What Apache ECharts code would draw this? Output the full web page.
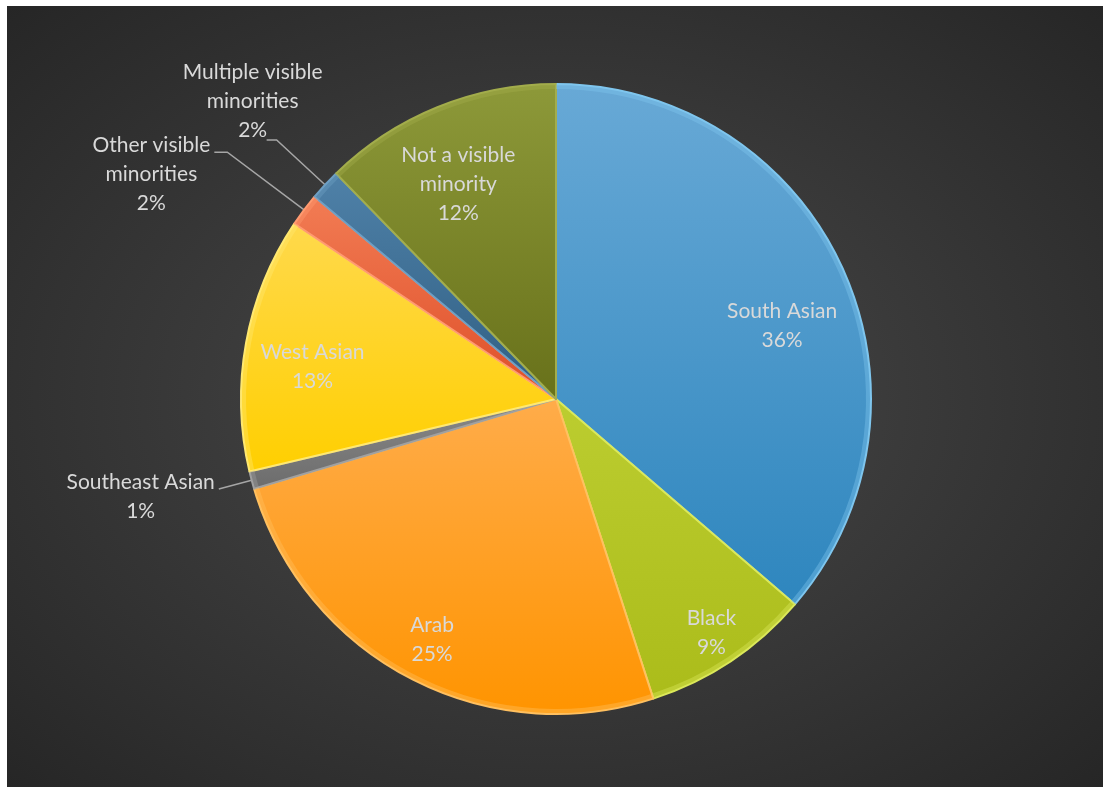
<!DOCTYPE html>
<html>
<head>
<meta charset="utf-8">
<title>Visible minority population</title>
<script src="https://cdn.jsdelivr.net/npm/echarts@6/dist/echarts.min.js"></script>
<style>
  html, body { margin: 0; padding: 0; background: #ffffff; }
  #chart {
    position: absolute; left: 7px; top: 6px; width: 1096px; height: 781px;
    background: radial-gradient(ellipse at 50% 50%, #4c4c4c 0%, #3a3a3a 45%, #262626 100%);
  }
</style>
</head>
<body>
<div id="chart"></div>
<script>
// Population shares (%) by group, clockwise from 12 o'clock
const categories = [
  'South Asian', 'Black', 'Arab', 'Southeast Asian', 'West Asian',
  'Other visible minorities', 'Multiple visible minorities', 'Not a visible minority'
];
const shares = [36.3, 8.7, 25.4, 0.9, 13.1, 1.7, 1.6, 12.3];
// Label wording with its line breaks
const labelText = [
  'South Asian', 'Black', 'Arab', 'Southeast Asian', 'West Asian',
  'Other visible\nminorities', 'Multiple visible\nminorities', 'Not a visible\nminority'
];

// Slice fills: [top tint, bottom tint, edge highlight]
const sliceColors = [
  ['#68a9d6', '#2e86be', '#7fc6ee'],
  ['#bccd30', '#abbc1a', '#dbe85a'],
  ['#ffac4a', '#ff9400', '#ffc060'],
  ['#8a8a8a', '#6c6c6c', '#a0a0a0'],
  ['#ffd94c', '#ffcf00', '#ffe870'],
  ['#f27c54', '#de4e28', '#ff9a70'],
  ['#4f81a8', '#2f5e82', '#6e9fc4'],
  ['#8d9939', '#68711a', '#a3ad4c']
];

// Geometry of the pie inside the chart box
const PIE_CENTER = [549, 393];
const PIE_RADIUS = 315;

// Inside labels: distance from centre (fraction of radius), angular shift (deg)
const insideLabelSpot = {
  'South Asian': { reach: 0.755, turn: 6.6 },
  'Black': { reach: 0.89, turn: 0 },
  'Arab': { reach: 0.86, turn: -0.5 },
  'West Asian': { reach: 0.78, turn: -2.6 },
  'Not a visible minority': { reach: 0.75, turn: -2.3 }
};
// Outside labels: leader lengths and where the leader meets the text block
const outsideLabelSpot = {
  'Southeast Asian': { len: 34, len2: 0, gap: 4, ax: 1, ay: 0.37 },
  'Other visible minorities': { len: 96, len2: 13, gap: 4, ax: 1, ay: 0.25 },
  'Multiple visible minorities': { len: 66, len2: 10, gap: 0, ax: 0.6, ay: 0.95 }
};

function sliceFill(c) {
  return new echarts.graphic.LinearGradient(0, 0, 0, 1, [
    { offset: 0, color: c[0] },
    { offset: 1, color: c[1] }
  ]);
}

const pieData = categories.map(function (name, i) {
  const c = sliceColors[i];
  const item = {
    name: name,
    value: shares[i],
    itemStyle: { color: sliceFill(c), borderColor: c[2], borderWidth: 2 }
  };
  const out = outsideLabelSpot[name];
  if (out) {
    item.label = { position: 'outside' };
    item.labelLine = { show: true, length: out.len, length2: out.len2 };
  }
  return item;
});

// Bevelled rim along each slice's arc
const rimData = categories.map(function (name, i) {
  return { name: name, value: shares[i], itemStyle: { color: sliceColors[i][2] } };
});

const chart = echarts.init(document.getElementById('chart'));

chart.setOption({
  backgroundColor: 'transparent',
  animation: false,
  series: [{
    type: 'pie',
    center: PIE_CENTER,
    radius: PIE_RADIUS,
    startAngle: 90,
    clockwise: true,
    avoidLabelOverlap: false,
    silent: true,
    data: pieData,
    label: {
      show: true,
      position: 'inside',
      color: '#d9d9d9',
      fontFamily: 'Lato',
      fontSize: 21,
      lineHeight: 29,
      formatter: function (p) {
        return labelText[p.dataIndex] + '\n' + Math.round(p.percent) + '%';
      }
    },
    labelLine: {
      show: false,
      lineStyle: { color: '#a6a6a6', width: 1.5 }
    },
    labelLayout: function (p) {
      const name = categories[p.dataIndex];
      const r = p.labelRect;
      const cx = r.x + r.width / 2;
      const cy = r.y + r.height / 2;
      const inner = insideLabelSpot[name];
      if (inner) {
        const ang = Math.atan2(cx - PIE_CENTER[0], PIE_CENTER[1] - cy) + inner.turn * Math.PI / 180;
        const d = inner.reach * PIE_RADIUS;
        return {
          x: PIE_CENTER[0] + d * Math.sin(ang),
          y: PIE_CENTER[1] - d * Math.cos(ang),
          align: 'center',
          verticalAlign: 'middle'
        };
      }
      const out = outsideLabelSpot[name];
      if (out && p.labelLinePoints) {
        const pts = p.labelLinePoints;
        const end = pts[pts.length - 1];
        return {
          x: end[0] - out.gap - (out.ax - 0.5) * r.width,
          y: end[1] - (out.ay - 0.5) * r.height,
          align: 'center',
          verticalAlign: 'middle',
          labelLinePoints: pts
        };
      }
      return {};
    }
  }, {
    type: 'pie',
    center: PIE_CENTER,
    radius: [PIE_RADIUS - 5, PIE_RADIUS],
    startAngle: 90,
    clockwise: true,
    silent: true,
    label: { show: false },
    labelLine: { show: false },
    itemStyle: { opacity: 0.4 },
    data: rimData
  }]
});
</script>
</body>
</html>
